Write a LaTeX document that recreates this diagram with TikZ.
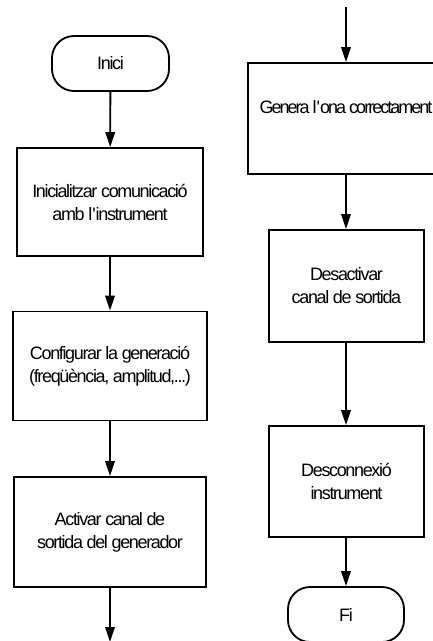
\documentclass[tikz,border=0pt]{standalone}
\usepackage{fontspec}
\setmainfont[LetterSpace=-7.5]{Liberation Sans}
\usetikzlibrary{arrows.meta}
\begin{document}
\begin{tikzpicture}[x=1pt,y=-1pt,
  every node/.style={font=\fontsize{18}{23}\selectfont, align=center, inner sep=0pt},
  stepbox/.style={draw, line width=1.8pt, rectangle},
  terminal/.style={draw, line width=1.8pt, rectangle, rounded corners=22pt,
                   minimum width=117pt, minimum height=55pt},
  flow/.style={line width=1.8pt, -{Triangle[length=15pt,width=9.5pt]}}]
  \clip (0,0) rectangle (433,641);

  % left column
  \node[terminal] (inici) at (110.5,63.5) {Inici};
  \node[stepbox, minimum width=186pt, minimum height=108pt] (init) at (110,202)
    {Inicialitzar comunicació\\amb l\textquotesingle instrument};
  \node[stepbox, minimum width=194pt, minimum height=109pt] (config) at (110,366)
    {Configurar la generació\\(freqüència, amplitud,...)};
  \node[stepbox, minimum width=192pt, minimum height=110pt] (activ) at (110,532)
    {Activar canal de\\sortida del generador};
  \coordinate (leftout) at (110,642);

  % right column
  \coordinate (rightin) at (346,7);
  \node[stepbox, minimum width=196pt, minimum height=111pt] (genera) at (346,118.5)
    {\addfontfeatures{LetterSpace=-11}Genera l\textquotesingle ona correctament\\\mbox{}};
  \node[stepbox, minimum width=155pt, minimum height=112pt] (desact) at (346.5,286)
    {Desactivar\\canal de sortida};
  \node[stepbox, minimum width=155pt, minimum height=111pt] (descon) at (346.5,481.5)
    {Desconnexió\\instrument};
  \node[terminal, minimum width=116pt] (fi) at (346,614.5) {Fi};

  % connectors
  \draw[flow] (inici) -- (init);
  \draw[flow] (init) -- (config);
  \draw[flow] (config) -- (activ);
  \draw[flow] (activ.south) -- (leftout);
  \draw[flow] (rightin) -- (genera.north -| rightin);
  \draw[flow] (genera.south -| rightin) -- (desact.north -| rightin);
  \draw[flow] (desact.south -| rightin) -- (descon.north -| rightin);
  \draw[flow] (descon.south -| rightin) -- (fi.north -| rightin);
\end{tikzpicture}
\end{document}
